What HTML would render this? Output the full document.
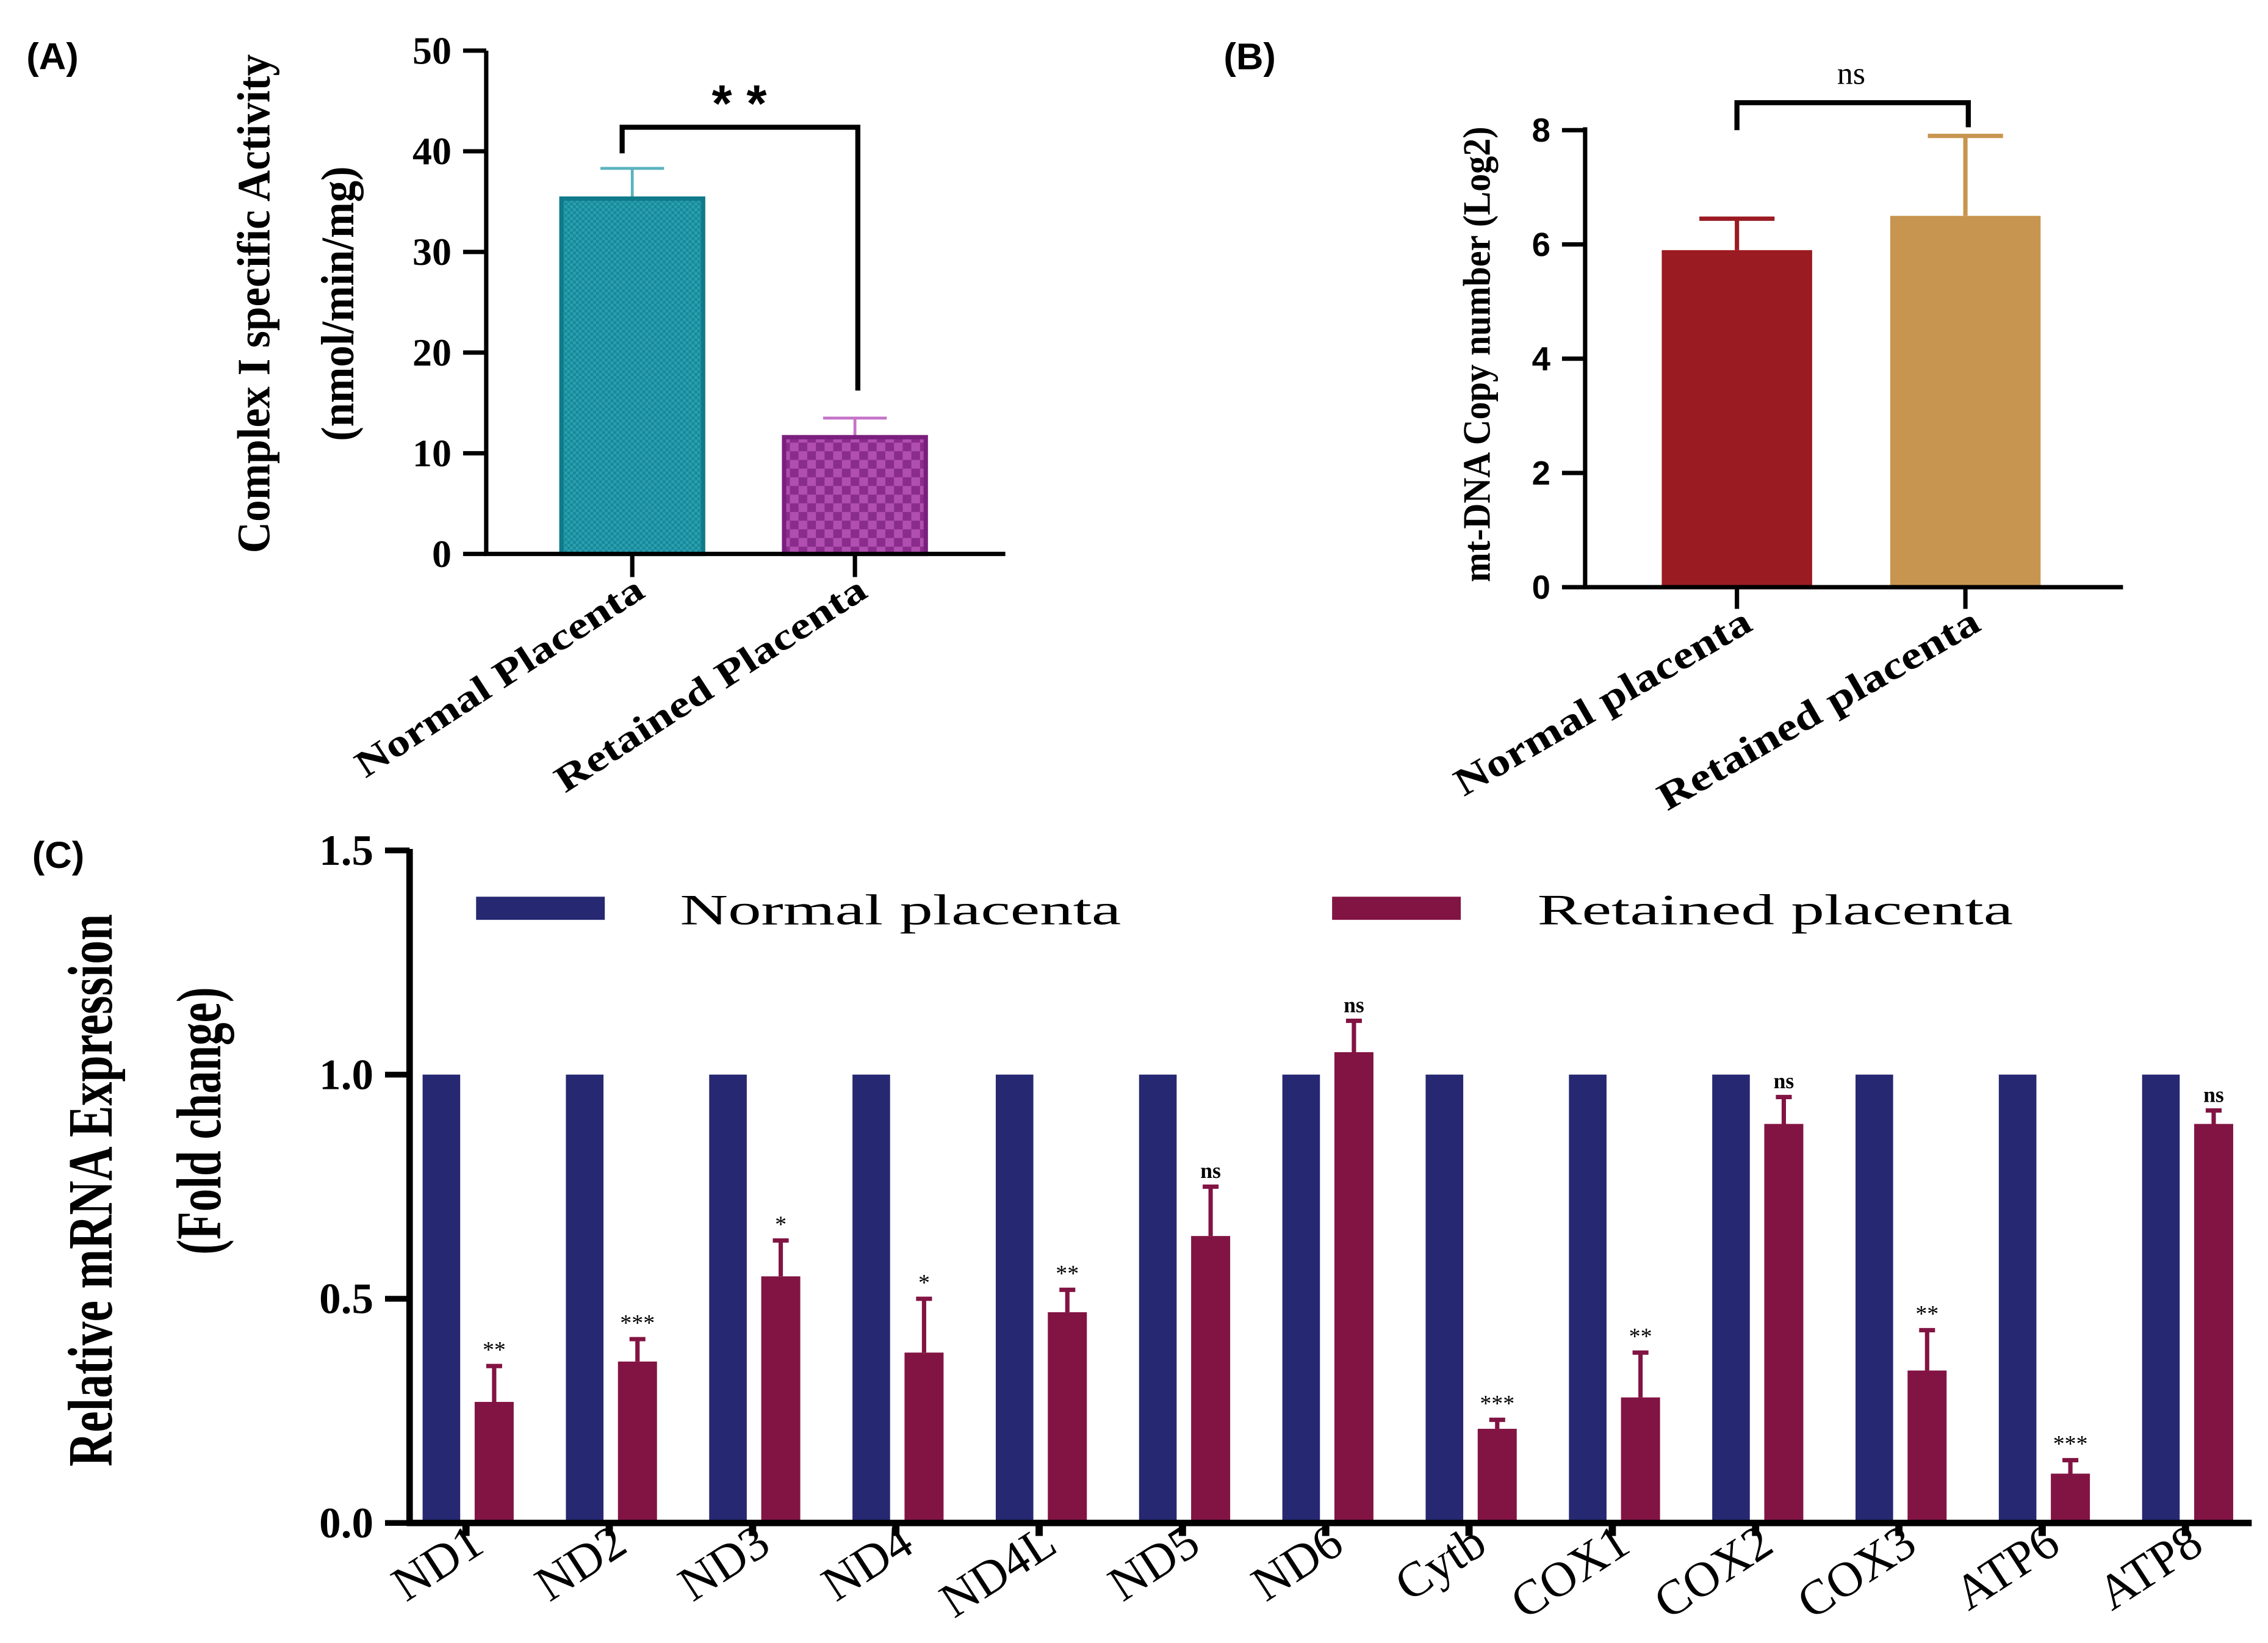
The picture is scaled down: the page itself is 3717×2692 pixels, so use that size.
<!DOCTYPE html>
<html><head><meta charset="utf-8"><style>
html,body{margin:0;padding:0;background:#fff}
svg{display:block}
text{font-family:"Liberation Serif",serif}
text.sans{font-family:"Liberation Sans",sans-serif}
</style></head><body>
<svg id="fig" width="3717" height="2692" viewBox="0 0 1568 1136" xmlns="http://www.w3.org/2000/svg">
<defs>
<pattern id="teal" width="4" height="4" patternUnits="userSpaceOnUse"><rect width="4" height="4" fill="#17899a"/><rect width="2" height="2" fill="#2a9fae"/><rect x="2" y="2" width="2" height="2" fill="#2a9fae"/></pattern>
<pattern id="purp" width="12" height="12" patternUnits="userSpaceOnUse"><rect width="12" height="12" fill="#8a2c8c"/><rect width="6" height="6" fill="#b04fb0"/><rect x="6" y="6" width="6" height="6" fill="#b04fb0"/></pattern>
</defs>
<g id="A"></g>
<g id="B"></g>
<g id="C"></g>
</svg>
<script>
// Panel A data
const aCats=["Normal Placenta","Retained Placenta"];
const aVals=[35.3,11.6];
const aErr=[38.3,13.5];
const aTicks=[0,10,20,30,40,50];
// Panel B data
const bCats=["Normal placenta","Retained placenta"];
const bVals=[5.9,6.5];
const bErr=[6.45,7.9];
const bTicks=[0,2,4,6,8];
// Panel C data
const cCats=["ND1","ND2","ND3","ND4","ND4L","ND5","ND6","Cytb","COX1","COX2","COX3","ATP6","ATP8"];
const cNormal=[1,1,1,1,1,1,1,1,1,1,1,1,1];
const cRetained=[0.27,0.36,0.55,0.38,0.47,0.64,1.05,0.21,0.28,0.89,0.34,0.11,0.89];
const cErr=[0.35,0.41,0.63,0.50,0.52,0.75,1.12,0.23,0.38,0.95,0.43,0.14,0.92];
const cSig=["**","***","*","*","**","ns","ns","***","**","ns","**","***","ns"];
const cTicks=["0.0","0.5","1.0","1.5"];

const NS="http://www.w3.org/2000/svg";
function mk(parent,tag,attrs,txt){const e=document.createElementNS(NS,tag);for(const k in attrs)e.setAttribute(k,attrs[k]);if(txt!==undefined)e.textContent=txt;parent.appendChild(e);return e;}

// ---------- Panel A ----------
(function(){
const g=document.getElementById('A');
const y=v=>383-v*6.96;
const cx=[437,591];
const t=mk(g,'text',{x:18,y:48,'class':'sans','font-weight':'bold','font-size':26},'(A)');

aTicks.forEach(v=>{
 const l=mk(g,'line',{x1:320,x2:336,y1:y(v),y2:y(v),stroke:'#000','stroke-width':3});
 
 const tx=mk(g,'text',{x:312,y:y(v)+9,'text-anchor':'end','font-weight':'bold','font-size':27},String(v));
 
});
const fills=['url(#teal)','url(#purp)'];const strokes=['#0f7a8a','#7a1f7d'];const ecol=['#5bb3bf','#c574c8'];
const lens=[232,251];
aVals.forEach((v,i)=>{
 const eb=mk(g,'path',{d:`M${cx[i]} ${y(v)}V${y(aErr[i])}M${cx[i]-22} ${y(aErr[i])}H${cx[i]+22}`,stroke:ecol[i],'stroke-width':2,fill:'none'});
 
 const r=mk(g,'rect',{x:cx[i]-49,y:y(v),width:98,height:y(0)-y(v),fill:fills[i],stroke:strokes[i],'stroke-width':3});
 
 const tk=mk(g,'line',{x1:cx[i],x2:cx[i],y1:383,y2:399,stroke:'#000','stroke-width':3});
 
 const lb=mk(g,'text',{transform:`translate(${cx[i]+10},${412}) rotate(-33)`,'text-anchor':'end','font-weight':'bold','font-size':26,textLength:lens[i],lengthAdjust:'spacingAndGlyphs'},aCats[i]);
 
});
const ax=mk(g,'path',{d:'M336 35V384.5M334.5 383H695',stroke:'#000','stroke-width':3,fill:'none'});

const br=mk(g,'path',{d:'M430 106V88H593V270',stroke:'#000','stroke-width':3.5,fill:'none'});

const st=mk(g,'text',{x:511,y:84,'text-anchor':'middle','font-weight':'bold','font-size':36,'class':'sans'},'* *');

const yt1=mk(g,'text',{transform:'translate(186,210) rotate(-90)','text-anchor':'middle','font-weight':'bold','font-size':32,textLength:345,lengthAdjust:'spacingAndGlyphs'},'Complex I specific Activity');

const yt2=mk(g,'text',{transform:'translate(244,210) rotate(-90)','text-anchor':'middle','font-weight':'bold','font-size':32,textLength:190,lengthAdjust:'spacingAndGlyphs'},'(nmol/min/mg)');

})();

// ---------- Panel B ----------
(function(){
const g=document.getElementById('B');
const y=v=>406-v*39.5;
const cx=[1201,1359];
const t=mk(g,'text',{x:846,y:48,'class':'sans','font-weight':'bold','font-size':26},'(B)');

bTicks.forEach(v=>{
 const l=mk(g,'line',{x1:1080,x2:1096,y1:y(v),y2:y(v),stroke:'#000','stroke-width':3});
 
 const tx=mk(g,'text',{x:1072,y:y(v)+8,'text-anchor':'end','font-weight':'bold','font-size':23,'class':'sans'},String(v));
 
});
const cols=['#9b1b22','#c7954f'];
const lens=[232,252];
bVals.forEach((v,i)=>{
 const eb=mk(g,'path',{d:`M${cx[i]} ${y(v)}V${y(bErr[i])}M${cx[i]-26} ${y(bErr[i])}H${cx[i]+26}`,stroke:cols[i],'stroke-width':3,fill:'none'});
 
 const r=mk(g,'rect',{x:cx[i]-52,y:y(v),width:104,height:y(0)-y(v),fill:cols[i]});
 
 const tk=mk(g,'line',{x1:cx[i],x2:cx[i],y1:406,y2:421,stroke:'#000','stroke-width':3});
 
 const lb=mk(g,'text',{transform:`translate(${cx[i]+12},${435}) rotate(-30)`,'text-anchor':'end','font-weight':'bold','font-size':27,textLength:lens[i],lengthAdjust:'spacingAndGlyphs'},bCats[i]);
 
});
const ax=mk(g,'path',{d:'M1096 88V407.5M1094.5 406H1468',stroke:'#000','stroke-width':3,fill:'none'});

const br=mk(g,'path',{d:'M1201 90V71H1361V88',stroke:'#000','stroke-width':3.5,fill:'none'});

const st=mk(g,'text',{x:1280,y:58,'text-anchor':'middle','font-size':22},'ns');

const yt=mk(g,'text',{transform:'translate(1030,245) rotate(-90)','text-anchor':'middle','font-weight':'bold','font-size':27,textLength:315,lengthAdjust:'spacingAndGlyphs'},'mt-DNA Copy number (Log2)');

})();

// ---------- Panel C ----------
(function(){
const g=document.getElementById('C');
const y=v=>1053-v*310;
const x=i=>322+i*99.1;
const t=mk(g,'text',{x:22,y:600,'class':'sans','font-weight':'bold','font-size':26},'(C)');

cTicks.forEach(s=>{
 const v=parseFloat(s);
 const l=mk(g,'line',{x1:266,x2:283,y1:y(v),y2:y(v),stroke:'#000','stroke-width':4});
 
 const tx=mk(g,'text',{x:258,y:y(v)+10,'text-anchor':'end','font-weight':'bold','font-size':30},s);
 
});
cCats.forEach((c,i)=>{
 const cx=x(i);
 const b=mk(g,'rect',{x:cx-30,y:y(cNormal[i]),width:26,height:y(0)-y(cNormal[i]),fill:'#272872'});
 
 const eb=mk(g,'path',{d:`M${cx+19.5} ${y(cRetained[i])}V${y(cErr[i])}M${cx+14} ${y(cErr[i])}H${cx+25}`,stroke:'#821443','stroke-width':3,fill:'none'});
 
 const r=mk(g,'rect',{x:cx+6,y:y(cRetained[i]),width:27,height:y(0)-y(cRetained[i]),fill:'#821443'});
 
 const sg=mk(g,'text',{x:cx+19.5,y:y(cErr[i])-6,'text-anchor':'middle','font-size':cSig[i]==='ns'?15:16,'font-weight':cSig[i]==='ns'?'bold':'normal'},cSig[i]);
 
 const tk=mk(g,'line',{x1:cx,x2:cx,y1:1053,y2:1062,stroke:'#000','stroke-width':5});
 
 const lb=mk(g,'text',{transform:`translate(${cx+14},${1072}) rotate(-33)`,'text-anchor':'end','font-size':34},c);
 
});
const ax=mk(g,'path',{d:'M283 587V1055M281 1053H1557',stroke:'#000','stroke-width':4.5,fill:'none'});

const l1=mk(g,'rect',{x:329,y:620,width:89,height:16,fill:'#272872'});

const lt1=mk(g,'text',{x:470,y:639,'font-size':30,textLength:305,lengthAdjust:'spacingAndGlyphs'},'Normal placenta');

const l2=mk(g,'rect',{x:921,y:620,width:89,height:16,fill:'#821443'});

const lt2=mk(g,'text',{x:1063,y:639,'font-size':30,textLength:329,lengthAdjust:'spacingAndGlyphs'},'Retained placenta');

const yt1=mk(g,'text',{transform:'translate(77,823) rotate(-90)','text-anchor':'middle','font-weight':'bold','font-size':44,textLength:382,lengthAdjust:'spacingAndGlyphs'},'Relative mRNA Expression');

const yt2=mk(g,'text',{transform:'translate(152,775) rotate(-90)','text-anchor':'middle','font-weight':'bold','font-size':44,textLength:185,lengthAdjust:'spacingAndGlyphs'},'(Fold change)');

})();
</script>
</body></html>
